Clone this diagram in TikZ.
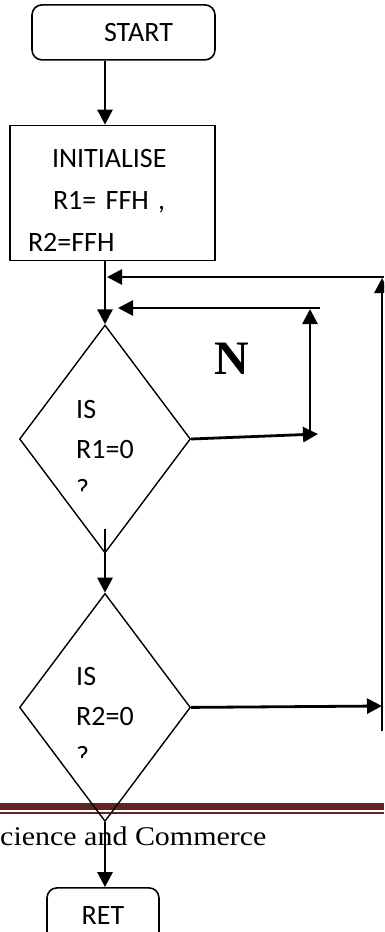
\documentclass[tikz,border=0pt]{standalone}
\usepackage{fontspec}
\setmainfont{Carlito}
\newfontfamily\serifN{Liberation Serif}
\newfontfamily\footserif[FakeStretch=1.11]{Liberation Serif}
\usepackage{xcolor}
\usetikzlibrary{arrows.meta,positioning,shapes.geometric}
\definecolor{footerRed}{HTML}{622423}

\begin{document}
\begin{tikzpicture}[x=1pt,y=-1pt,>={Triangle[width=15pt,length=15pt]},
    term/.style={draw,line width=1.6pt,rounded corners=10pt,inner sep=0pt,
      minimum height=55pt,font=\fontsize{28}{40}\selectfont},
    proc/.style={draw,line width=1.6pt,align=left,inner xsep=18pt,
      text width=169pt,minimum height=135pt,font=\fontsize{28}{42}\selectfont},
    decision/.style={draw,diamond,line width=1.4pt,inner sep=0pt,
      minimum width=171pt,minimum height=228pt},
    qtext/.style={align=left,font=\fontsize{28}{40}\selectfont},
    flow/.style={->,line width=2.8pt}]
  \useasboundingbox (0,0) rectangle (384,932);
  \clip (0,0) rectangle (384,932);
  % page footer behind the chart
  \fill[footerRed] (0,803) rectangle (384,809.5);
  \fill[footerRed] (0,811.5) rectangle (384,813.5);
  \node[anchor=base west,inner sep=0pt,
    font=\footserif\fontsize{27}{30}\selectfont] (foot) at (0,845) {cience and Commerce};
  % chart
  \node[decision] (q1) at (105,439) {};
  \node[decision,below=39pt of q1] (q2) {};
  \node[proc,above=63pt of q1,xshift=7.5pt] (init)
    {\rule{0pt}{32pt}\hspace*{24pt}INITIALISE\\\hspace*{25pt}R1= FFH ,\\R2=FFH};
  \node[term,minimum width=183pt,above=64pt of init,xshift=11pt] (start)
    {\hspace*{30pt}START};
  \node[term,minimum width=112pt,below=65pt of q2,xshift=-2pt] (ret) {RET};
  \begin{scope}
    \clip (0,0) rectangle (384,492);
    \node[qtext,yshift=-11pt] (q1text) at (q1.center) {IS\\R1=0\\?};
  \end{scope}
  \begin{scope}
    \clip (0,0) rectangle (384,757);
    \node[qtext,yshift=-9pt] (q2text) at (q2.center) {IS\\R2=0\\?};
  \end{scope}
  \node[font=\serifN\bfseries\fontsize{48}{50}\selectfont] (no) at (231.5,358.5) {N};
  % loop points
  \coordinate (q1tail) at ([yshift=25pt]q1.south);
  \coordinate (n1) at (318,434);
  \coordinate (n2) at (310,433);
  \coordinate (n3) at (310,309);
  \coordinate (n4) at (320,308);
  \coordinate (n5) at (118,308);
  \coordinate (r1) at (382,706);
  \coordinate (r2) at (382,731);
  \coordinate (r3) at (382,278);
  \coordinate (r4) at (384,277);
  \coordinate (r5) at (107,277);
  % main flow
  \draw[flow] (start.south -| q1.north) -- (init.north -| q1.north);
  \draw[flow] (init.south -| q1.north) -- (q1.north);
  \draw[flow] (q1tail) -- (q2.north);
  \draw[flow] (q2.south) -- (ret.north -| q2.south);
  % wait on R1
  \draw[flow] (q1.east) -- (n1);
  \draw[flow] (n2) -- (n3);
  \draw[flow] (n4) -- (n5);
  % wait on R2
  \draw[flow] (q2.east) -- (r1);
  \draw[flow] (r2) -- (r3);
  \draw[flow] (r4) -- (r5);
\end{tikzpicture}
\end{document}
